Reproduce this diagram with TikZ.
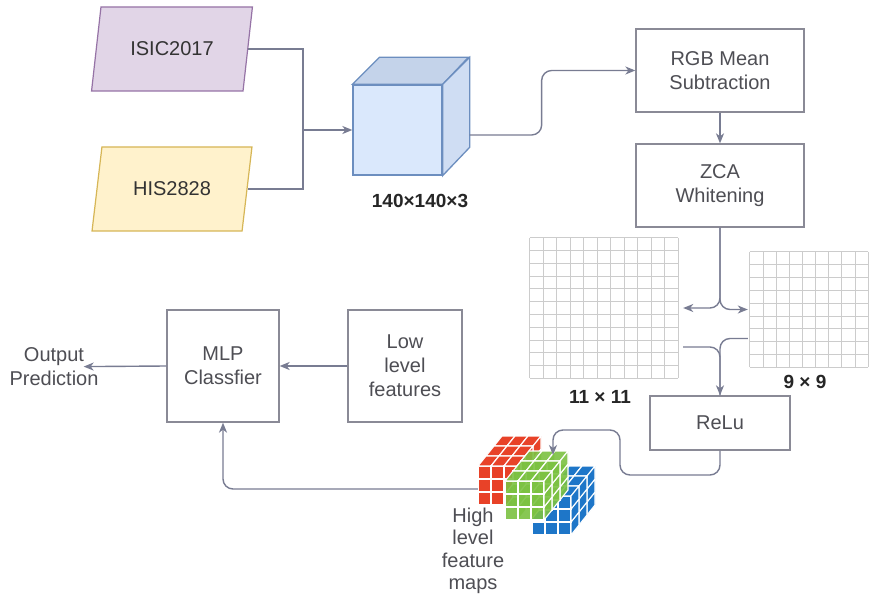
\documentclass[tikz,border=0pt]{standalone}
\usepackage{fontspec}
\setmainfont{Liberation Sans}
\usetikzlibrary{arrows.meta,shapes.geometric,calc}

\definecolor{linegray}{RGB}{120,124,146}
\definecolor{boxgray}{RGB}{138,138,150}
\definecolor{txtgray}{RGB}{78,78,84}
\definecolor{isicfill}{RGB}{225,213,231}
\definecolor{isicdraw}{RGB}{150,115,166}
\definecolor{hisfill}{RGB}{255,242,204}
\definecolor{hisdraw}{RGB}{214,182,86}
\definecolor{cubefront}{RGB}{218,232,252}
\definecolor{cubetop}{RGB}{196,211,234}
\definecolor{cubeside}{RGB}{207,221,243}
\definecolor{cubedraw}{RGB}{108,142,191}
\definecolor{fmred}{RGB}{232,66,40}
\definecolor{fmgreen}{RGB}{124,194,66}
\definecolor{fmblue}{RGB}{30,118,200}

% one small cube of a feature map: front, top and right face
\newcommand{\fmcube}[3]{%
  \filldraw[fm=#3] (#1,#2) rectangle ++(13,13);
  \filldraw[fm=#3] (#1,#2) -- ++(8,-10) -- ++(13,0) -- ++(-8,10) -- cycle;
  \filldraw[fm=#3] (#1+13,#2) -- ++(8,-10) -- ++(0,13) -- ++(-8,10) -- cycle;
}
% 3x3x3 block of cubes, back to front
\newcommand{\fmblock}[3]{%
  \foreach \k in {2,1,0}
    \foreach \j in {2,1,0}
      \foreach \i in {0,1,2}
        {\fmcube{#1+13*\i+8*\k}{#2+13*\j-10*\k}{#3}}
}

\begin{document}
\begin{tikzpicture}[x=1pt, y=-1pt,
    font=\fontsize{20pt}{24pt}\selectfont,
    box/.style={draw=boxgray, line width=1.3pt, align=center, text=txtgray},
    para/.style={trapezium, trapezium left angle=74, trapezium right angle=106,
      trapezium stretches=true, minimum width=161pt, minimum height=84pt,
      line width=1.2pt, text=black!80},
    plain/.style={align=center, inner sep=0pt, text=txtgray},
    dimlabel/.style={font=\fontsize{19pt}{22pt}\selectfont\bfseries, text=black!85},
    conn/.style={draw=linegray, line width=1.4pt},
    arr/.style={conn, -{Stealth[length=10pt, width=8pt, inset=3pt]}},
    gridln/.style={draw=gray!40, line width=0.8pt},
    fm/.style={fill=#1, draw=white, line width=1.1pt}]
  \useasboundingbox[fill=white] (0,0) rectangle (870,601);

  % inputs
  \node[para, fill=isicfill, draw=isicdraw] (isic) at (172,49) {ISIC2017};
  \node[para, fill=hisfill, draw=hisdraw] (his) at (172,189) {HIS2828};

  % input image volume
  \node[fill=cubefront, draw=cubedraw, line width=1.3pt, minimum width=89pt,
    minimum height=90pt, inner sep=0pt] (img) at (397.5,130) {};
  \filldraw[fill=cubetop, draw=cubedraw, line width=1.3pt]
    (img.north west) -- ++(27,-27) -- ++(89,0) -- (img.north east) -- cycle;
  \filldraw[fill=cubeside, draw=cubedraw, line width=1.3pt]
    (img.north east) -- ++(27,-27) -- ++(0,90) -- (img.south east) -- cycle;
  \node[dimlabel] (imgsize) at (420,201) {140×140×3};

  % preprocessing
  \node[box, minimum width=168pt, minimum height=83pt] (rgb) at (720,70.5) {RGB Mean\\Subtraction};
  \node[box, minimum width=168pt, minimum height=83pt] (zca) at (720,185.5) {ZCA\\Whitening};

  % filter grids
  \node[inner sep=0pt, minimum width=148pt, minimum height=140pt] (gridA) at (604,308) {};
  \node[inner sep=0pt, minimum width=118pt, minimum height=115pt] (gridB) at (809,309.5) {};
  \foreach \i in {0,...,11} {
    \draw[gridln] ($(gridA.north west)!\i/11!(gridA.north east)$) -- ($(gridA.south west)!\i/11!(gridA.south east)$);
    \draw[gridln] ($(gridA.north west)!\i/11!(gridA.south west)$) -- ($(gridA.north east)!\i/11!(gridA.south east)$);
  }
  \foreach \i in {0,...,9} {
    \draw[gridln] ($(gridB.north west)!\i/9!(gridB.north east)$) -- ($(gridB.south west)!\i/9!(gridB.south east)$);
    \draw[gridln] ($(gridB.north west)!\i/9!(gridB.south west)$) -- ($(gridB.north east)!\i/9!(gridB.south east)$);
  }
  \node[dimlabel] (sizeA) at (600,397) {11 × 11};
  \node[dimlabel] (sizeB) at (805,382) {9 × 9};

  \node[box, minimum width=140pt, minimum height=54pt] (relu) at (720,423) {ReLu};

  % high level feature maps
  \node[inner sep=0pt, minimum width=117pt, minimum height=100pt] (fmap) at (536.5,489) {};
  \fmblock{478}{466}{fmred}
  \fmblock{532}{496}{fmblue}
  \begin{scope}[fill opacity=0.9]
    \fmblock{505}{481}{fmgreen}
  \end{scope}
  \node[plain, font=\fontsize{20pt}{22.5pt}\selectfont] (hlf) at (473,551) {High\\level\\feature\\maps};

  % classifier
  \node[box, minimum width=112pt, minimum height=112pt] (mlp) at (223,366) {MLP\\Classfier};
  \node[box, minimum width=114pt, minimum height=112pt] (low) at (405,366) {Low\\level\\features};
  \node[plain] (out) at (54,366.5) {Output\\Prediction};

  % connectors
  \coordinate (join) at (303,130);
  \coordinate (fmin) at (553,455);
  \draw[conn] (isic.east) -| (join);
  \draw[conn] (his.east) -| (join);
  \draw[arr] (join) -- (img.west);
  \draw[arr, rounded corners=10pt] ([shift={(27,5)}]img.east) -- ++(72,0) |- (rgb.west);
  \draw[arr] (rgb) -- (zca);
  \draw[arr, rounded corners=10pt, shorten >=5pt] (zca.south) |- (gridA.east);
  \draw[arr, rounded corners=10pt, shorten >=2pt] (zca.south) |- (gridB.west);
  \draw[arr, rounded corners=10pt] ([shift={(5,39)}]gridA.east) -| (relu.north);
  \draw[conn, rounded corners=10pt] ([shift={(-2,29)}]gridB.west) -| (relu.north);
  \draw[arr, rounded corners=10pt] (relu.south) |- (620,475) |- (553,430) -- (fmin);
  \draw[arr, rounded corners=10pt] (fmap.west) -| (mlp.south);
  \draw[arr] (low) -- (mlp);
  \draw[arr, shorten >=-15pt] (mlp.west) -- (out.east);
\end{tikzpicture}
\end{document}
